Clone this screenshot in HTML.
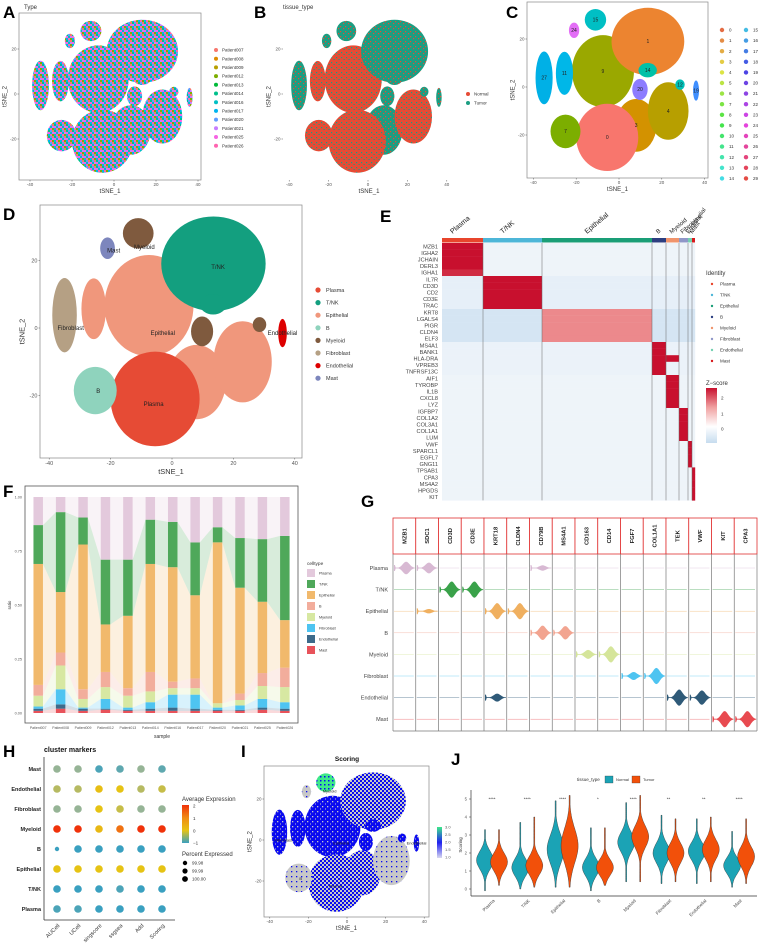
<!DOCTYPE html>
<html><head><meta charset="utf-8">
<style>
body{margin:0;background:#fff}
svg{display:block;font-family:"Liberation Sans",sans-serif}
</style></head>
<body>
<svg id="fig" width="760" height="946" viewBox="0 0 760 946">
<defs>
<pattern id="patA" width="6" height="6" patternUnits="userSpaceOnUse">
<rect width="6" height="6" fill="#619cff"/>
<rect x="0" y="0" width="2" height="2" fill="#f564e3"/><rect x="2" y="0" width="2" height="2" fill="#00bfc4"/><rect x="4" y="0" width="2" height="2" fill="#c77cff"/>
<rect x="0" y="2" width="2" height="2" fill="#00b4f0"/><rect x="2" y="2" width="2" height="2" fill="#ff64b0"/><rect x="4" y="2" width="2" height="2" fill="#7cae00"/>
<rect x="0" y="4" width="2" height="2" fill="#00c08b"/><rect x="2" y="4" width="2" height="2" fill="#619cff"/><rect x="4" y="4" width="2" height="2" fill="#f8766d"/>
</pattern>
<pattern id="patBred" width="5" height="5" patternUnits="userSpaceOnUse">
<rect width="5" height="5" fill="#e64b35"/><rect x="1" y="2" width="1.2" height="1.2" fill="#1b9e82"/><rect x="3.5" y="4" width="1.2" height="1" fill="#1b9e82"/>
</pattern>
<pattern id="patBteal" width="5" height="5" patternUnits="userSpaceOnUse">
<rect width="5" height="5" fill="#1b9e82"/><rect x="0" y="1" width="1.2" height="1.2" fill="#e64b35"/><rect x="3" y="3" width="1.2" height="1.2" fill="#e64b35"/>
</pattern>
<pattern id="patIblue" width="5" height="5" patternUnits="userSpaceOnUse">
<rect width="5" height="5" fill="#0a0af0"/><rect x="2" y="1" width="1.3" height="1.3" fill="#c8c8c8"/><rect x="0" y="3.5" width="1" height="1" fill="#c8c8c8"/>
</pattern>
<pattern id="patIgray" width="5" height="5" patternUnits="userSpaceOnUse">
<rect width="5" height="5" fill="#c8c8c8"/><rect x="1" y="1" width="1.3" height="1.3" fill="#0a0af0"/>
</pattern>
<pattern id="patImix" width="4" height="4" patternUnits="userSpaceOnUse">
<rect width="4" height="4" fill="#c8c8c8"/><rect x="0" y="0" width="2" height="2" fill="#0a0af0"/><rect x="2" y="2" width="2" height="2" fill="#0a0af0"/>
</pattern>
<pattern id="patIgreen" width="4" height="4" patternUnits="userSpaceOnUse">
<rect width="4" height="4" fill="#3de88a"/><rect x="0" y="0" width="1.5" height="1.5" fill="#0a0af0"/>
</pattern>
<linearGradient id="gradH" x1="0" y1="1" x2="0" y2="0">
<stop offset="0" stop-color="#3aa0c0"/><stop offset="0.33" stop-color="#e6c314"/><stop offset="0.66" stop-color="#f08c14"/><stop offset="1" stop-color="#f0320a"/>
</linearGradient>
<linearGradient id="gradZ" x1="0" y1="1" x2="0" y2="0">
<stop offset="0" stop-color="#c6dcef"/><stop offset="0.3" stop-color="#ffffff"/><stop offset="0.65" stop-color="#f0a0a0"/><stop offset="1" stop-color="#c8102e"/>
</linearGradient>
<linearGradient id="gradI" x1="0" y1="1" x2="0" y2="0">
<stop offset="0" stop-color="#d8d8f0"/><stop offset="0.5" stop-color="#2020f0"/><stop offset="1" stop-color="#3de88a"/>
</linearGradient>
</defs>
</svg>
<script>
const NS='http://www.w3.org/2000/svg';
const svg=document.getElementById('fig');
function mk(tag,parent,attrs){const e=document.createElementNS(NS,tag);for(const k in attrs)e.setAttribute(k,attrs[k]);parent.appendChild(e);return e;}
function tx(parent,x,y,s,size,extra){const e=mk('text',parent,Object.assign({x:x,y:y,'font-size':size,fill:'#333'},extra||{}));e.textContent=s;return e;}

/* ---------- shared t-SNE cluster data (tSNE units) ---------- */
const blobType=['Epithelial','Epithelial','Epithelial','Epithelial','T/NK','T/NK','Plasma','B','Fibroblast','Myeloid','Myeloid','Myeloid','Mast','Endothelial'];
const blobX=[-7.5,-25.5,8,23,13.5,13.4,-5.5,-25,-35,-11,9.8,28.5,-21,36];
const blobY=[6.6,5.7,-16,-10,19,7,-21,-18.5,3.8,28,-1,1,23.6,-1.5];
const blobRX=[14.5,4,9.5,9.5,17,4.3,14.5,7,4,5,3.6,2.2,2.4,1.4];
const blobRY=[15,9,11,12,14,3,14,7,11,4.5,4.4,2.2,3.2,4.2];
const typeColor={'Plasma':'#e64b35','T/NK':'#139f7f','Epithelial':'#f0977c','B':'#8fd3bd','Myeloid':'#7f5a3e','Fibroblast':'#b5a084','Endothelial':'#dd0000','Mast':'#7d86bd'};
const cColors=['#9aa800','#00b7e8','#d39200','#b79f00','#ec8430','#00c1a8','#f8766d','#7cae00','#00b0e6','#00bfc4','#8c7cff','#00c0b8','#e36ef6','#3f8fff'];
const cLabels=['9','11','3','4','1','14','0','7','27','15','20','12','24','19'];
const bFills=['url(#patBred)','url(#patBred)','url(#patBteal)','url(#patBred)','url(#patBteal)','url(#patBteal)','url(#patBred)','url(#patBred)','url(#patBteal)','url(#patBteal)','url(#patBteal)','url(#patBteal)','url(#patBteal)','url(#patBteal)'];
const iFills=['url(#patIblue)','url(#patIblue)','url(#patImix)','url(#patIgray)','url(#patImix)','url(#patIblue)','url(#patImix)','url(#patIgray)','url(#patIblue)','url(#patIgreen)','url(#patIblue)','url(#patIblue)','url(#patIgray)','url(#patIblue)'];
const tsneTicksX=[-40,-20,0,20,40];
const tsneTicksY=[-20,0,20];
const patients=['Patient007','Patient008','Patient009','Patient012','Patient013','Patient014','Patient016','Patient017','Patient020','Patient021','Patient025','Patient026'];
const patientColors=['#f8766d','#de8c00','#b79f00','#7cae00','#00ba38','#00c08b','#00bfc4','#00b4f0','#619cff','#c77cff','#f564e3','#ff64b0'];
const dTypes=['Plasma','T/NK','Epithelial','B','Myeloid','Fibroblast','Endothelial','Mast'];
const dLabelX=[-6,15,-3,-24,-9,-33,36,-19];
const dLabelY=[-22.5,18,-1.5,-18.7,24,0,-1.5,23];

function scatterPanel(name,box,x0,kx,y0,ky,fillFn,fs,showBox){
  const g=mk('g',svg,{});
  
  
  const sx=v=>x0+v*kx, sy=v=>y0-v*ky;
  if(showBox){const r=mk('rect',g,{x:box[0],y:box[1],width:box[2]-box[0],height:box[3]-box[1],fill:'none',stroke:'#888','stroke-width':0.7});
    }
  for(let i=0;i<blobX.length;i++){
    const e=mk('ellipse',g,{cx:sx(blobX[i]),cy:sy(blobY[i]),rx:blobRX[i]*kx,ry:blobRY[i]*ky,fill:fillFn(i)});
    
    
  }
  tsneTicksX.forEach(v=>{const t=tx(g,sx(v),box[3]+fs+1.5,String(v),fs,{'text-anchor':'middle',fill:'#555'});
    
    const l=mk('line',g,{x1:sx(v),x2:sx(v),y1:box[3],y2:box[3]+1.5,stroke:'#555','stroke-width':0.5});
    });
  tsneTicksY.forEach(v=>{const t=tx(g,box[0]-2.5,sy(v)+fs*0.35,String(v),fs,{'text-anchor':'end',fill:'#555'});
    
    const l=mk('line',g,{x1:box[0]-1.5,x2:box[0],y1:sy(v),y2:sy(v),stroke:'#555','stroke-width':0.5});
    });
  const xt=tx(g,(box[0]+box[2])/2,box[3]+fs*2.9,'tSNE_1',fs*1.35,{'text-anchor':'middle'});
  
  const cy=(box[1]+box[3])/2, cxp=box[0]-fs*2.8;
  const yt=tx(g,cxp,cy,'tSNE_2',fs*1.35,{'text-anchor':'middle',transform:`rotate(-90 ${cxp} ${cy})`});
  
  return {g,sx,sy};
}
function panelLetter(s,x,y){const t=tx(svg,x,y,s,17,{'font-weight':'bold',fill:'#000'});
  }

/* ---------- A ---------- */
panelLetter('A',3,18);
const pa=scatterPanel('panel-a-tsne-patient',[19,13,201,180],114,2.1,94,2.25,i=>'url(#patA)',4.5,true);
let t=tx(svg,24,9,'Type',6,{});
patients.forEach((p,i)=>{const y=50+i*8.7;
  const c=mk('circle',svg,{cx:216,cy:y,r:2,fill:patientColors[i]});
  const l=tx(svg,222,y+1.6,p,4.5,{});});

/* ---------- B ---------- */
panelLetter('B',254,18);
scatterPanel('panel-b-tsne-tissue',[283,13,455,180],368,1.97,94,2.25,i=>bFills[i],4.5,false);
t=tx(svg,283,9,'tissue_type',6,{});
[['Normal','#e64b35',94],['Tumor','#1b9e82',103]].forEach(d=>{
  const c=mk('circle',svg,{cx:468,cy:d[2],r:2,fill:d[1]});
  const l=tx(svg,474,d[2]+1.6,d[0],4.5,{});});

/* ---------- C ---------- */
panelLetter('C',506,18);
const pc=scatterPanel('panel-c-tsne-clusters',[527,2,708,178],619,2.14,87,2.4,i=>cColors[i],4.5,true);
cLabels.forEach((s,i)=>{const l=tx(svg,pc.sx(blobX[i]),pc.sy(blobY[i])+1.8,s,5,{'text-anchor':'middle',fill:'#222'});
  });
const hueCols=[];for(let i=0;i<30;i++){hueCols.push(`hsl(${(15+i*12)%360},75%,58%)`);}
for(let i=0;i<30;i++){const col=i<15?0:1,row=i%15;const x=col?746:722,y=30+row*10.6;
  const c=mk('circle',svg,{cx:x,cy:y,r:2.2,fill:hueCols[i]});
  const l=tx(svg,x+7,y+1.6,String(i),4.5,{});}

/* ---------- D ---------- */
panelLetter('D',3,220);
const pd=scatterPanel('panel-d-tsne-celltype',[40,205,302,458],172,3.07,328,3.38,i=>typeColor[blobType[i]],5.5,true);
dTypes.forEach((s,i)=>{const l=tx(svg,pd.sx(dLabelX[i]),pd.sy(dLabelY[i])+2,s,6,{'text-anchor':'middle',fill:'#222'});
  
  const y=290+i*12.6;
  const c=mk('circle',svg,{cx:318,cy:y,r:2.6,fill:typeColor[s]});
  const lg=tx(svg,326,y+2,s,5.5,{});});

/* ---------- E heatmap ---------- */
panelLetter('E',380,222);
const eClusters=['Plasma','T/NK','Epithelial','B','Myeloid','Fibroblast','Endothelial','Mast'];
const eClusterCells=[41,59,110,14,13,9,4,3];
const eClusterColors=['#e8452c','#4db6d8','#1a9e77','#2c3e80','#f0946c','#8f97c8','#72d0b0','#d7191c'];
const eGenes=['MZB1','IGHA2','JCHAIN','DERL3','IGHA1','IL7R','CD3D','CD2','CD3E','TRAC','KRT8','LGALS4','PIGR','CLDN4','ELF3','MS4A1','BANK1','HLA-DRA','VPREB3','TNFRSF13C','AIF1','TYROBP','IL1B','CXCL8','LYZ','IGFBP7','COL1A2','COL3A1','COL1A1','LUM','VWF','SPARCL1','EGFL7','GNG11','TPSAB1','CPA3','MS4A2','HPGDS','KIT'];
const eGeneGroup=[0,0,0,0,0,1,1,1,1,1,2,2,2,2,2,3,3,3,3,3,4,4,4,4,4,5,5,5,5,5,6,6,6,6,7,7,7,7,7];
const eOwnZ=[2.2,2.2,1.1,2.2,2.2,2.2,2.2,2.2];
const eOffZ=[-0.05,-0.2,-0.55,-0.1,-0.05,-0.05,-0.05,-0.05];
function zColor(z){function mix(a,b,t){return a.map((v,i)=>Math.round(v+(b[i]-v)*t));}
  let c; if(z<0){c=mix([240,245,250],[190,215,238],Math.min(1,-z));}
  else if(z<1){c=mix([240,245,250],[240,150,150],z);} else {c=mix([240,150,150],[200,16,46],Math.min(1,z-1));}
  return `rgb(${c[0]},${c[1]},${c[2]})`;}
(function(){
  const g=mk('g',svg,{});
  const X0=442,X1=695,Y0=243,rowH=6.6;const total=eClusterCells.reduce((a,b)=>a+b,0);
  const bx=[];let acc=0;eClusterCells.forEach(n=>{bx.push(X0+acc/total*(X1-X0));acc+=n;});bx.push(X1);
  eClusters.forEach((c,j)=>{const r=mk('rect',g,{x:bx[j],y:238,width:bx[j+1]-bx[j],height:4.5,fill:eClusterColors[j]});
    
    const ang=j<6?-40:-55;const lx=(bx[j]+bx[j+1])/2-(j<3?10:1), ly=234;
    const l=tx(g,lx,ly,c,j<3?7:6,{transform:`rotate(${ang} ${lx} ${ly})`,fill:'#222'});
    });
  eGenes.forEach((gn,i)=>{const y=Y0+i*rowH;
    eClusters.forEach((c,j)=>{let z=(eGeneGroup[i]===j)?eOwnZ[j]:eOffZ[eGeneGroup[i]];
      if(gn==='HLA-DRA'&&j===4)z=2;if(eGeneGroup[i]===0&&j===0&&i>=4)z=1.8;
      const r=mk('rect',g,{x:bx[j],y:y,width:bx[j+1]-bx[j]+0.2,height:rowH+0.2,fill:zColor(z)});
      });
    const l=tx(g,438,y+rowH*0.8,gn,5.6,{'text-anchor':'end',fill:'#444'});
    });
  for(let j=1;j<eClusters.length;j++){const l=mk('line',g,{x1:bx[j],x2:bx[j],y1:Y0,y2:Y0+eGenes.length*rowH,stroke:'#666','stroke-width':0.5});
    }
  let h=tx(svg,706,275,'Identity',6,{});
  eClusters.forEach((c,j)=>{const y=284+j*11;
    const d=mk('circle',svg,{cx:712,cy:y,r:1.2,fill:eClusterColors[j]});
    const l=tx(svg,720,y+1.6,c,4.6,{});});
  h=tx(svg,706,385,'Z\u2212score',6,{});
  const cb=mk('rect',svg,{x:706,y:388,width:11,height:55,fill:'url(#gradZ)'});
  [['2',398],['1',414],['0',429]].forEach(d=>{const l=tx(svg,721,d[1]+1.5,d[0],4.6,{});});
})();

/* ---------- F stacked bar ---------- */
panelLetter('F',3,497);
const fSamples=patients;
const fTypesBottomUp=['Mast','Endothelial','Fibroblast','Myeloid','B','Epithelial','T/NK','Plasma'];
const fMast=[.01,.02,.01,.015,.01,.01,.01,.01,.01,.01,.015,.01];
const fEndo=[.01,.02,.01,.005,.005,.01,.015,.01,.005,.005,.01,.01];
const fFibro=[.01,.07,.005,.045,.01,.03,.06,.065,.01,.02,.04,.03];
const fMyeloid=[.05,.11,.04,.055,.055,.05,.03,.03,.02,.025,.06,.07];
const fB=[.05,.06,.045,.07,.035,.09,.03,.045,.0,.03,.06,.09];
const fEpi=[.56,.28,.67,.22,.335,.5,.53,.385,.745,.49,.33,.22];
const fTNK=[.18,.37,.125,.30,.26,.205,.21,.245,.07,.23,.29,.39];
const fPlasma=[.13,.07,.095,.29,.29,.105,.115,.21,.14,.19,.195,.18];
const fYTicks=[0,0.25,0.5,0.75,1];
const fYTickLabels=['0.00','0.25','0.50','0.75','1.00'];
const fColors={'Plasma':'#e3c9dc','T/NK':'#4fa85a','Epithelial':'#f1b96c','B':'#f2ad9c','Myeloid':'#d7e8a2','Fibroblast':'#4ec4f1','Endothelial':'#3d6a8a','Mast':'#e8525a'};
(function(){
  const g=mk('g',svg,{});
  const series=[fMast,fEndo,fFibro,fMyeloid,fB,fEpi,fTNK,fPlasma];
  const fy=v=>713-v*216, fx=i=>27+(i+0.5)*22.42, bw=9.5;
  const fr=mk('rect',g,{x:25,y:486,width:273,height:237,fill:'#fff',stroke:'#555','stroke-width':0.8});
  
  const cum=fSamples.map(()=>0);const stacks=[];
  series.forEach((s,k)=>{const lo=cum.slice();s.forEach((v,i)=>cum[i]+=v);stacks.push([lo,cum.slice()]);});
  stacks.forEach((st,k)=>{const col=fColors[fTypesBottomUp[k]];
    for(let i=0;i<fSamples.length-1;i++){
      const p=mk('polygon',g,{points:`${fx(i)+bw/2},${fy(st[0][i])} ${fx(i)+bw/2},${fy(st[1][i])} ${fx(i+1)-bw/2},${fy(st[1][i+1])} ${fx(i+1)-bw/2},${fy(st[0][i+1])}`,fill:col,opacity:0.22});
      }
  });
  stacks.forEach((st,k)=>{const col=fColors[fTypesBottomUp[k]];
    fSamples.forEach((s,i)=>{const r=mk('rect',g,{x:fx(i)-bw/2,y:fy(st[1][i]),width:bw,height:Math.max(0,fy(st[0][i])-fy(st[1][i])),fill:col});
      });});
  fYTicks.forEach((v,i)=>{const l=tx(g,22,fy(v)+1.3,fYTickLabels[i],3.8,{'text-anchor':'end',fill:'#555'});
    });
  fSamples.forEach((s,i)=>{const l=tx(g,fx(i),729,s,3.5,{'text-anchor':'middle',fill:'#555'});
    });
  let a=tx(g,162,738,'sample',5,{'text-anchor':'middle'});
  a=tx(g,11,605,'ratio',4.5,{'text-anchor':'middle',transform:'rotate(-90 11 605)'});
  a=tx(svg,307,565,'celltype',4.8,{});
  fTypesBottomUp.slice().reverse().forEach((c,j)=>{const y=569+j*11;
    const r=mk('rect',svg,{x:307,y:y,width:8,height:8,fill:fColors[c]});
    const l=tx(svg,319,y+5.5,c,3.8,{});});
})();

/* ---------- G stacked violins ---------- */
panelLetter('G',361,507);
const gGenes=['MZB1','SDC1','CD3D','CD3E','KRT18','CLDN4','CD79B','MS4A1','CD163','CD14','FGF7','COL1A1','TEK','VWF','KIT','CPA3'];
const gTypes=['Plasma','T/NK','Epithelial','B','Myeloid','Fibroblast','Endothelial','Mast'];
const gRowColors=['#d8b9d3','#3aa24a','#f0b060','#f2a490','#d5e59a','#4ec4f1','#2f5a78','#e84a50'];
const gExprPlasma=[0.7,0.6,0,0,0,0,0.3,0,0,0,0,0,0,0,0,0];
const gExprTNK=[0,0,0.9,0.9,0,0,0,0,0,0,0,0,0,0,0,0];
const gExprEpi=[0,0.25,0,0,0.9,0.9,0,0,0,0,0,0,0,0,0,0];
const gExprB=[0,0,0,0,0,0,0.8,0.75,0,0,0,0,0,0,0,0];
const gExprMyeloid=[0,0,0,0,0,0,0,0,0.5,0.9,0,0,0,0,0,0];
const gExprFibro=[0,0,0,0,0,0,0,0,0,0,0.45,0.9,0,0,0,0];
const gExprEndo=[0,0,0,0,0.45,0,0,0,0,0,0,0,0.9,0.8,0,0];
const gExprMast=[0,0,0,0,0,0,0,0,0,0,0,0,0,0,0.9,0.9];
(function(){
  const g=mk('g',svg,{});
  const rows=[gExprPlasma,gExprTNK,gExprEpi,gExprB,gExprMyeloid,gExprFibro,gExprEndo,gExprMast];
  const X0=393,cw=(757-X0)/gGenes.length,ry=i=>568+i*21.6;
  gGenes.forEach((gn,c)=>{const x=X0+c*cw;
    const r=mk('rect',g,{x:x,y:518,width:cw,height:36,fill:'#fff',stroke:'#e03030','stroke-width':0.8});
    
    const cx=x+cw/2+2,cy=536;
    const l=tx(g,cx,cy,gn,5.8,{'text-anchor':'middle','font-weight':'bold',fill:'#222',transform:`rotate(-90 ${cx} ${cy})`});
    
    const v=mk('line',g,{x1:x,x2:x,y1:554,y2:731,stroke:'#777','stroke-width':0.7});
    });
  const vr=mk('line',g,{x1:757,x2:757,y1:554,y2:731,stroke:'#777','stroke-width':0.7});
  const vb=mk('line',g,{x1:X0,x2:757,y1:731,y2:731,stroke:'#777','stroke-width':0.7});
  gTypes.forEach((tp,r)=>{const y=ry(r),col=gRowColors[r];
    const l=tx(g,388,y+2,tp,5.5,{'text-anchor':'end',fill:'#444'});
    gGenes.forEach((gn,c)=>{const x=X0+c*cw,val=rows[r][c];
      const bl=mk('line',g,{x1:x+1,x2:x+cw-2,y1:y,y2:y,stroke:col,'stroke-width':0.5,opacity:0.7});
      
      if(val>0){const pts=[];const L=cw*0.92,n=24;
        for(let k=0;k<=n;k++){const tt=k/n;const h=Math.max(0.4,9*val*Math.exp(-0.5*Math.pow((tt-0.58)/0.16,2))+(tt<0.05?3:0));pts.push([x+1+tt*L,y-h]);}
        for(let k=n;k>=0;k--){const tt=k/n;const h=Math.max(0.4,9*val*Math.exp(-0.5*Math.pow((tt-0.58)/0.16,2))+(tt<0.05?3:0));pts.push([x+1+tt*L,y+h]);}
        const p=mk('polygon',g,{points:pts.map(q=>q[0].toFixed(1)+','+q[1].toFixed(1)).join(' '),fill:col});
        }
    });});
})();

/* ---------- H dot plot ---------- */
panelLetter('H',3,757);
const hRows=['Mast','Endothelial','Fibroblast','Myeloid','B','Epithelial','T/NK','Plasma'];
const hMethods=['AUCell','UCell','singscore','ssgsea','Add','Scoring'];
const hMast=[-0.5,-0.5,-0.9,-0.8,-0.5,-0.8];
const hEndo=[-0.3,-0.3,0.1,0,-0.3,-0.2];
const hFibro=[-0.5,-0.5,0,-0.2,-0.5,-0.5];
const hMyeloid=[2,2,0.2,1.3,2,2];
const hB=[-1,-1,-1,-1,-1,-1];
const hEpi=[0,0,0,0,0,0];
const hTNK=[-1,-1,-1,-0.9,-1,-1];
const hPlasma=[-0.9,-0.9,-1,-1,-1,-1];
const hPctB=[99.98,100,100,100,100,100];
function hColor(v){const st=[[-1,[58,160,192]],[-0.5,[150,180,150]],[0,[230,195,20]],[1,[240,140,20]],[2,[240,50,10]]];
  for(let i=0;i<st.length-1;i++){if(v<=st[i+1][0]){const t=(v-st[i][0])/(st[i+1][0]-st[i][0]);const a=st[i][1],b=st[i+1][1];
    return `rgb(${Math.round(a[0]+(b[0]-a[0])*t)},${Math.round(a[1]+(b[1]-a[1])*t)},${Math.round(a[2]+(b[2]-a[2])*t)})`;}}return 'rgb(240,50,10)';}
(function(){
  const g=mk('g',svg,{});
  const vals=[hMast,hEndo,hFibro,hMyeloid,hB,hEpi,hTNK,hPlasma];
  const hx=j=>57+j*21, hy=i=>769+i*20;
  let a=tx(g,44,752,'cluster markers',7,{'font-weight':'bold',fill:'#111'});
  let ln=mk('line',g,{x1:44,x2:44,y1:757,y2:920,stroke:'#333','stroke-width':0.8});
  ln=mk('line',g,{x1:44,x2:175,y1:920,y2:920,stroke:'#333','stroke-width':0.8});
  hRows.forEach((r,i)=>{const l=tx(g,41,hy(i)+2,r,5.5,{'text-anchor':'end','font-weight':'bold',fill:'#222'});
    
    hMethods.forEach((m,j)=>{const rad=(r==='B')?(hPctB[j]<100?2.2:3.8):3.8;
      const c=mk('circle',g,{cx:hx(j),cy:hy(i),r:rad,fill:hColor(vals[i][j])});
      });});
  hMethods.forEach((m,j)=>{const x=hx(j)+3,y=926;const l=tx(g,x,y,m,5.5,{'text-anchor':'end',fill:'#333',transform:`rotate(-45 ${x} ${y})`});
    });
  a=tx(svg,182,801,'Average Expression',6,{});
  const cb=mk('rect',svg,{x:182,y:805,width:7,height:38,fill:'url(#gradH)'});
  [['2',806],['1',818.5],['0',831],['\u22121',843]].forEach(d=>{const l=tx(svg,193,d[1]+1.6,d[0],4.5,{});});
  a=tx(svg,182,856,'Percent Expressed',6,{});
  [['99.98',863,2.2],['99.99',871,2.6],['100.00',879,2.9]].forEach(d=>{
    const c=mk('circle',svg,{cx:185,cy:d[1],r:d[2],fill:'#000'});
    const l=tx(svg,192,d[1]+1.6,d[0],4.5,{});});
})();

/* ---------- I ---------- */
panelLetter('I',241,757);
const pi=scatterPanel('panel-i-tsne-scoring',[264,766,429,917],347,1.93,840,2.05,i=>iFills[i],4.5,true);
t=tx(svg,347,761,'Scoring',6.5,{'text-anchor':'middle','font-weight':'bold',fill:'#111'});
['Fibroblast','Myeloid','Epithelial','B','Plasma','Endothelial'].forEach(s=>{const k=dTypes.indexOf(s);
  const l=tx(svg,pi.sx(dLabelX[k]),pi.sy(dLabelY[k])+1.5,s,4,{'text-anchor':'middle',fill:'#222'});});
(function(){const cb=mk('rect',svg,{x:437,y:827,width:5,height:31,fill:'url(#gradI)'});
  ['3.0','2.5','2.0','1.5','1.0'].forEach((s,i)=>{const l=tx(svg,445,828.5+i*7.5,s,4,{fill:'#555'});});})();

/* ---------- J split violins ---------- */
panelLetter('J',451,765);
const jGroups=['Plasma','T/NK','Epithelial','B','Myeloid','Fibroblast','Endothelial','Mast'];
const jNormMin=[-0.1,0,0.1,-0.1,0.4,0.3,0.3,0.1];
const jNormMax=[3.3,3.7,4.9,3.4,4.8,4.1,3.9,3.2];
const jNormMode=[1.6,1.2,2.2,1.2,2.6,2.0,2.1,1.3];
const jNormSpread=[0.5,0.5,0.8,0.5,0.55,0.55,0.5,0.45];
const jTumMin=[0.2,0.1,0.1,0.2,0.4,0.4,0.4,0.3];
const jTumMax=[3.3,4.0,5.2,3.4,5.2,3.9,4.0,3.9];
const jTumMode=[1.5,1.3,2.4,1.2,2.9,2.0,2.2,1.8];
const jTumSpread=[0.5,0.5,0.95,0.45,0.6,0.55,0.55,0.55];
const jSignif=['****','****','****','*','****','**','**','****'];
const jYTicks=[0,1,2,3,4,5];
(function(){
  const g=mk('g',svg,{});
  const jy=v=>889-v*18, jx=i=>492+i*35.3;
  let ln=mk('line',g,{x1:471,x2:471,y1:790,y2:896,stroke:'#333','stroke-width':0.7});
  ln=mk('line',g,{x1:471,x2:757,y1:896,y2:896,stroke:'#333','stroke-width':0.7});
  jYTicks.forEach(v=>{const l=tx(g,467,jy(v)+1.4,String(v),4.2,{'text-anchor':'end',fill:'#555'});
    const tk=mk('line',g,{x1:469,x2:471,y1:jy(v),y2:jy(v),stroke:'#333','stroke-width':0.5});});
  let a=tx(g,462,845,'Scoring',4.5,{'text-anchor':'middle',transform:'rotate(-90 462 845)'});
  function violin(cx,mn,mx,mode,s,col,name){const pts=[],W=8.5,n=60;
    for(let k=0;k<=n;k++){const v=mn+(mx-mn)*k/n;const h=Math.max(0.5,W*Math.exp(-0.5*Math.pow((v-mode)/s,2)));pts.push([cx+h,jy(v)]);}
    for(let k=n;k>=0;k--){const v=mn+(mx-mn)*k/n;const h=Math.max(0.5,W*Math.exp(-0.5*Math.pow((v-mode)/s,2)));pts.push([cx-h,jy(v)]);}
    const p=mk('polygon',g,{points:pts.map(q=>q[0].toFixed(1)+','+q[1].toFixed(1)).join(' '),fill:col,stroke:'#333','stroke-width':0.4});
    }
  jGroups.forEach((gr,i)=>{const c=jx(i);
    violin(c-7,jNormMin[i],jNormMax[i],jNormMode[i],jNormSpread[i],'#1ba3b5','violin-normal-'+gr.toLowerCase().replace('/',''));
    violin(c+7,jTumMin[i],jTumMax[i],jTumMode[i],jTumSpread[i],'#f2500a','violin-tumor-'+gr.toLowerCase().replace('/',''));
    const s=tx(g,c,jy(5)+1.5,jSignif[i],4.5,{'text-anchor':'middle',fill:'#444'});
    const x=c+3,y=901;const l=tx(g,x,y,gr,4.5,{'text-anchor':'end',fill:'#444',transform:`rotate(-45 ${x} ${y})`});
    });
  a=tx(svg,577,781,'tissue_type',4.5,{});
  let r=mk('rect',svg,{x:605,y:776,width:8,height:7,fill:'#1ba3b5',stroke:'#333','stroke-width':0.3});
  a=tx(svg,616,781,'Normal',4,{});
  r=mk('rect',svg,{x:632,y:776,width:8,height:7,fill:'#f2500a',stroke:'#333','stroke-width':0.3});
  a=tx(svg,643,781,'Tumor',4,{});
})();
</script>
</body></html>
